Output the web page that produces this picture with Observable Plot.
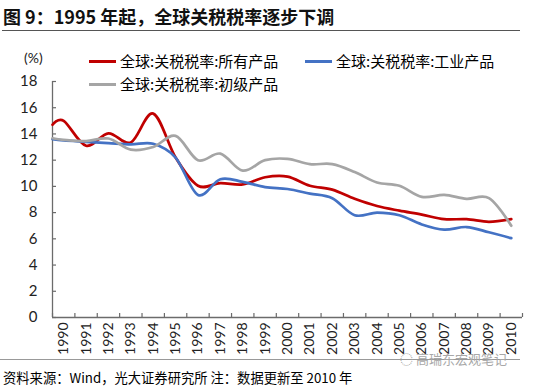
<!DOCTYPE html>
<html><head><meta charset="utf-8">
<script src="https://cdn.jsdelivr.net/npm/d3@7"></script>
<script src="https://cdn.jsdelivr.net/npm/@observablehq/plot@0.6"></script>
<style>
body{margin:0;background:#fff;width:550px;height:389px;overflow:hidden;position:relative;font-family:"Noto Sans CJK SC","Noto Sans",sans-serif;color:#000;}
.abs{position:absolute;white-space:nowrap;}
#title{left:3px;top:3px;font-size:18px;font-weight:700;line-height:26px;letter-spacing:0px;color:#111;}
#trule{left:2px;top:30px;width:518px;height:0;border-top:1.3px solid #555;}
#chart{left:0;top:32px;}
#unit{left:24px;top:49px;font-family:Lato,"Noto Sans CJK SC",sans-serif;font-size:14px;line-height:18px;color:#222;}
.lg{font-size:15px;line-height:20px;}
.sw{position:absolute;height:0;border-top:3px solid;}
#brule{left:0;top:359px;width:520px;height:0;border-top:1px solid #999;}
#wm{left:400px;top:351px;font-size:13px;line-height:16px;color:#a8a8a8;}
#src{left:3px;top:369px;font-size:13.3px;line-height:18px;}
</style></head>
<body>
<div id="title" class="abs">图 9：1995 年起，全球关税税率逐步下调</div>
<div id="trule" class="abs"></div>
<div id="chart" class="abs"></div>
<div id="unit" class="abs">(%)</div>
<div id="legend"></div>
<div id="brule" class="abs"></div>
<div id="wm" class="abs">◌ 高瑞东宏观笔记</div>
<div id="src" class="abs">资料来源：Wind，光大证券研究所 注：数据更新至 2010 年</div>
<script>
// ---- data ----
const seriesNames = ["全球:关税税率:所有产品", "全球:关税税率:工业产品", "全球:关税税率:初级产品"];
const seriesColors = ["#C00000", "#4472C4", "#A5A5A5"];
const yearLabels = [1990,1991,1992,1993,1994,1995,1996,1997,1998,1999,2000,2001,2002,2003,2004,2005,2006,2007,2008,2009,2010];
// x positions of the points as drawn (the curves begin at the left axis edge)
const pointX = [1989.5,1990,1991,1992,1993,1994,1995,1996,1997,1998,1999,2000,2001,2002,2003,2004,2005,2006,2007,2008,2009,2010];
const allProducts = [14.7,15.0,13.1,14.05,13.35,15.55,12.2,10.05,10.25,10.15,10.7,10.75,10.05,9.75,9.05,8.5,8.15,7.85,7.5,7.5,7.3,7.5];
const industrial  = [13.6,13.5,13.4,13.3,13.2,13.25,12.2,9.35,10.55,10.35,9.95,9.8,9.45,9.1,7.8,8.0,7.8,7.1,6.7,6.9,6.5,6.05];
const primary     = [13.67,13.55,13.45,13.65,12.8,13.0,13.85,12.0,12.5,11.2,12.0,12.1,11.7,11.7,11.1,10.3,10.05,9.2,9.35,9.05,9.1,7.0];
const yTicks = [0,2,4,6,8,10,12,14,16,18];

const seriesValues = [allProducts, industrial, primary];
const rows = [];
seriesNames.forEach((s, i) => pointX.forEach((x, j) => rows.push({s, x, v: seriesValues[i][j]})));
const bounds = yearLabels.map(y => y - 0.5).concat([yearLabels[yearLabels.length-1] + 0.5]);

const W = 550, H = 325, mL = 52, mR = 28, mT = 49, mB = 40;
const plotW = W - mL - mR, plotH = H - mT - mB;
const axisColor = "#6b6b6b";

const chart = Plot.plot({
  width: W, height: H,
  marginLeft: mL, marginRight: mR, marginTop: mT, marginBottom: mB,
  x: {domain: [bounds[0], bounds[bounds.length-1]]},
  y: {domain: [0, 18]},
  color: {domain: seriesNames, range: seriesColors},
  style: {fontFamily: "Lato, 'Noto Sans CJK SC', sans-serif", color: "#222", background: "transparent", overflow: "visible"},
  marks: [
    Plot.axisY({ticks: yTicks, tickSize: 0, tickPadding: 15, label: null, fontSize: 15}),
    Plot.axisX({ticks: yearLabels, tickSize: 0, tickPadding: 5, tickRotate: -90, tickFormat: d => String(d), label: null, fontSize: 14}),
    Plot.ruleX([bounds[0]], {stroke: axisColor, strokeWidth: 1.3}),
    Plot.ruleY([0], {stroke: axisColor, strokeWidth: 1.3}),
    Plot.tickY(yTicks, {y: d => d, insetRight: plotW - 4, stroke: axisColor, strokeWidth: 1.2}),
    Plot.tickX(bounds, {x: d => d, insetTop: plotH - 4, stroke: axisColor, strokeWidth: 1.2}),
    Plot.line(rows, {x: "x", y: "v", z: "s", stroke: "s", curve: "cardinal", strokeWidth: 2.7})
  ]
});
document.getElementById("chart").appendChild(chart);

// legend
const legendPos = [
  {sx: 89, tx: 120, y: 61},
  {sx: 305, tx: 336, y: 61},
  {sx: 89, tx: 120, y: 84}
];
const lg = document.getElementById("legend");
seriesNames.forEach((s, i) => {
  const p = legendPos[i];
  const sw = document.createElement("div");
  sw.className = "sw";
  sw.style.left = p.sx + "px"; sw.style.width = "27px"; sw.style.top = (p.y - 1.5) + "px";
  sw.style.borderColor = seriesColors[i];
  lg.appendChild(sw);
  const t = document.createElement("div");
  t.className = "abs lg";
  t.style.left = p.tx + "px"; t.style.top = (p.y - 10) + "px";
  t.textContent = s;
  lg.appendChild(t);
});
</script>
</body></html>
